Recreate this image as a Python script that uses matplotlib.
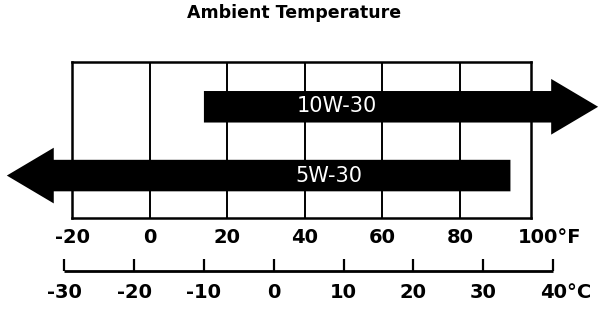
import matplotlib
matplotlib.use("Agg")
import matplotlib.pyplot as plt
import numpy as np
from matplotlib.patches import FancyArrow

# ---------------- data ----------------
title = "Ambient Temperature"
f_ticks = [-20, 0, 20, 40, 60, 80, 100]
c_ticks = [-30, -20, -10, 0, 10, 20, 30, 40]
oil_grades = ["10W-30", "5W-30"]
grade_min_f = [14, -np.inf]     # -inf = open ended (arrow head to the left)
grade_max_f = [np.inf, 93]      # inf  = open ended (arrow head to the right)

# ---------------- layout ----------------
W, H = 608, 310
BOX_L, BOX_R, BOX_T, BOX_B = 72, 531, 62, 218
XLIM = (-20, 98.3)
LEFT_TIP_F, RIGHT_TIP_F = -36.8, 115.6
HEAD_LEN_F = 12.1
ROW_Y = [0.713, 0.272]
TEXT_Y = [0.719, 0.2705]
TEXT_X = [48.2, 46.2]
BODY_W = 0.202
HEAD_W = 0.357

fig = plt.figure(figsize=(W / 100, H / 100), dpi=100)
ax = fig.add_axes([BOX_L / W, 1 - BOX_B / H, (BOX_R - BOX_L) / W, (BOX_B - BOX_T) / H])
ax.set_xlim(*XLIM)
ax.set_ylim(0, 1)
ax.set_xticks([])
ax.set_yticks([])
for s in ax.spines.values():
    s.set_linewidth(1.8)
    s.set_color("black")

# interior grid lines
for f in f_ticks:
    if XLIM[0] < f < XLIM[1]:
        ax.axvline(f, color="black", lw=1.4, zorder=1)

# arrows
for i, g in enumerate(oil_grades):
    lo, hi = grade_min_f[i], grade_max_f[i]
    y = ROW_Y[i]
    if np.isinf(hi):
        start, end = lo, RIGHT_TIP_F
    else:
        start, end = hi, LEFT_TIP_F
    arr = FancyArrow(start, y, end - start, 0, width=BODY_W, head_width=HEAD_W,
                     head_length=HEAD_LEN_F, length_includes_head=True,
                     color="black", lw=0, clip_on=False, zorder=4)
    ax.add_patch(arr)
    ax.text(TEXT_X[i], TEXT_Y[i], g, color="white", fontsize=15,
            family="DejaVu Sans", ha="center", va="center", zorder=5)

lab_kw = dict(fontsize=14, fontweight="bold", family="DejaVu Sans", color="black")

# Fahrenheit labels
F_LAB_Y = -0.122
for f in f_ticks:
    if f == f_ticks[-1]:
        ax.annotate(f"{f}°F", xy=(f, F_LAB_Y), xycoords="data", xytext=(8.5, 0),
                    textcoords="offset points", ha="center", va="center",
                    annotation_clip=False, **lab_kw)
    else:
        ax.text(f, F_LAB_Y, f"{f}", ha="center", va="center", clip_on=False, **lab_kw)

# Celsius scale (drawn in °F data coordinates)
def c2f(c):
    return c * 9 / 5 + 32

c_pos = [c2f(c) for c in c_ticks]
LINE_Y, TICK_TOP, C_LAB_Y = -0.340, -0.263, -0.478
ax.plot([c_pos[0], c_pos[-1]], [LINE_Y, LINE_Y], color="black", lw=2.0,
        clip_on=False, solid_capstyle="butt")
for c, x in zip(c_ticks, c_pos):
    ax.plot([x, x], [LINE_Y, TICK_TOP], color="black", lw=1.6, clip_on=False,
            solid_capstyle="butt")
    if c == c_ticks[-1]:
        ax.annotate(f"{c}°C", xy=(x, C_LAB_Y), xycoords="data", xytext=(8.8, 0),
                    textcoords="offset points", ha="center", va="center",
                    annotation_clip=False, **lab_kw)
    else:
        ax.text(x, C_LAB_Y, f"{c}", ha="center", va="center", clip_on=False, **lab_kw)

fig.text(294 / W, 1 - 13 / H, title, ha="center", va="center",
         fontsize=12.5, fontweight="bold", family="DejaVu Sans")

fig.savefig("out.png", dpi=100, facecolor="white")
